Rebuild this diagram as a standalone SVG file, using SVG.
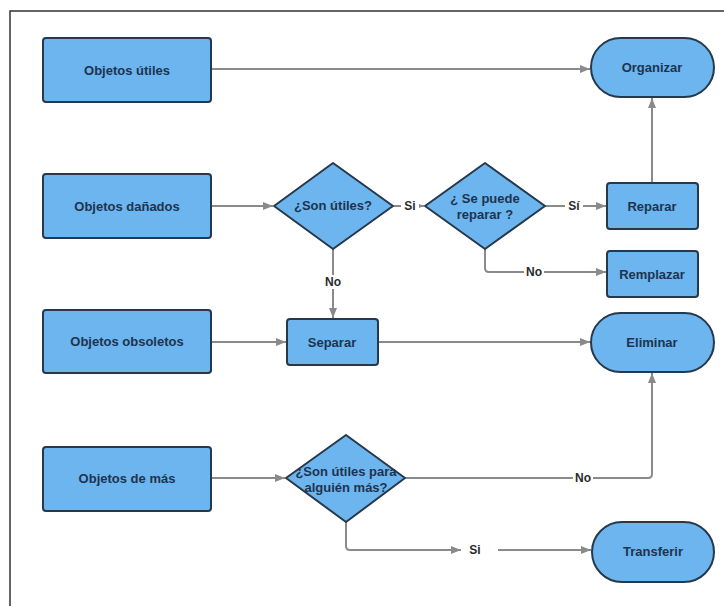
<svg xmlns="http://www.w3.org/2000/svg" width="724" height="607" viewBox="0 0 724 607">
  <style>
    .box { fill: #6cb5ee; stroke: #26384a; stroke-width: 2; }
    .lbl { font-family: "Liberation Sans", Arial, sans-serif; font-size: 13px; font-weight: bold; fill: #1d3350; text-anchor: middle; dominant-baseline: central; }
    .edge { fill: none; stroke: #8a8a8a; stroke-width: 2; }
    .elbl { font-family: "Liberation Sans", Arial, sans-serif; font-size: 12px; font-weight: bold; fill: #2a2a2a; text-anchor: middle; dominant-baseline: central; }
    .lblbg { fill: #ffffff; }
  </style>
  <defs>
    <marker id="arrow" viewBox="0 0 10 8" refX="10" refY="4" markerWidth="10" markerHeight="8" markerUnits="userSpaceOnUse" orient="auto">
      <path d="M0,0 L10,4 L0,8 Z" fill="#8a8a8a"/>
    </marker>
  </defs>

  <rect width="724" height="607" fill="#ffffff"/>
  <!-- frame -->
  <path d="M10,606 L10,11 L724,11" fill="none" stroke="#333333" stroke-width="1.5"/>

  <!-- connectors -->
  <g id="connectors">
    <path class="edge" d="M211,69 L590,69" marker-end="url(#arrow)"/>
    <path class="edge" d="M211,206 L273,206" marker-end="url(#arrow)"/>
    <path class="edge" d="M393,206 L424,206" marker-end="url(#arrow)"/>
    <path class="edge" d="M545,206 L606,206" marker-end="url(#arrow)"/>
    <path class="edge" d="M652,183 L652,98" marker-end="url(#arrow)"/>
    <path class="edge" d="M485,249 L485,268 Q485,272 489,272 L606,272" marker-end="url(#arrow)"/>
    <path class="edge" d="M333,249 L333,318" marker-end="url(#arrow)"/>
    <path class="edge" d="M211,342 L286,342" marker-end="url(#arrow)"/>
    <path class="edge" d="M378,342 L590,342" marker-end="url(#arrow)"/>
    <path class="edge" d="M211,478 L285,478" marker-end="url(#arrow)"/>
    <path class="edge" d="M405,478 L648,478 Q652,478 652,474 L652,373" marker-end="url(#arrow)"/>
    <path class="edge" d="M346,522 L346,546 Q346,550 350,550 L461,550" marker-end="url(#arrow)"/>
    <path class="edge" d="M498,550 L591,550" marker-end="url(#arrow)"/>

    <rect class="lblbg" x="401" y="199" width="18" height="14"/>
    <text class="elbl" x="410" y="206">Si</text>
    <rect class="lblbg" x="565" y="199" width="18" height="14"/>
    <text class="elbl" x="574" y="206">Sí</text>
    <rect class="lblbg" x="524" y="265" width="20" height="14"/>
    <text class="elbl" x="534" y="272">No</text>
    <rect class="lblbg" x="323" y="275" width="20" height="14"/>
    <text class="elbl" x="333" y="282">No</text>
    <rect class="lblbg" x="573" y="471" width="20" height="14"/>
    <text class="elbl" x="583" y="478">No</text>
    <text class="elbl" x="475" y="550">Si</text>
  </g>

  <g id="objetos-utiles">
    <rect class="box" x="43" y="38" width="168" height="64" rx="3"/>
    <text class="lbl" x="127" y="70">Objetos útiles</text>
  </g>
  <g id="objetos-danados">
    <rect class="box" x="43" y="174" width="168" height="64" rx="3"/>
    <text class="lbl" x="127" y="206">Objetos dañados</text>
  </g>
  <g id="objetos-obsoletos">
    <rect class="box" x="43" y="310" width="168" height="63" rx="3"/>
    <text class="lbl" x="127" y="341">Objetos obsoletos</text>
  </g>
  <g id="objetos-de-mas">
    <rect class="box" x="43" y="447" width="168" height="64" rx="3"/>
    <text class="lbl" x="127" y="478">Objetos de más</text>
  </g>

  <g id="son-utiles">
    <path class="box" d="M333,163 L393,206 L333,249 L274,206 Z" stroke-linejoin="round"/>
    <text class="lbl" x="333" y="205">¿Son útiles?</text>
  </g>
  <g id="se-puede-reparar">
    <path class="box" d="M485,163 L545,206 L485,249 L425,206 Z" stroke-linejoin="round"/>
    <text class="lbl" x="485" y="198">¿ Se puede</text>
    <text class="lbl" x="485" y="214">reparar ?</text>
  </g>
  <g id="son-utiles-para-alguien">
    <path class="box" d="M346,435 L405,478 L346,522 L286,478 Z" stroke-linejoin="round"/>
    <text class="lbl" x="346" y="471">¿Son útiles para</text>
    <text class="lbl" x="346" y="487">alguién más?</text>
  </g>

  <g id="reparar">
    <rect class="box" x="607" y="183" width="91" height="46" rx="3"/>
    <text class="lbl" x="652" y="206">Reparar</text>
  </g>
  <g id="remplazar">
    <rect class="box" x="607" y="251" width="91" height="46" rx="3"/>
    <text class="lbl" x="652" y="274">Remplazar</text>
  </g>
  <g id="separar">
    <rect class="box" x="287" y="319" width="91" height="46" rx="3"/>
    <text class="lbl" x="332" y="342">Separar</text>
  </g>

  <g id="organizar">
    <rect class="box" x="591" y="38" width="123" height="59" rx="29.5"/>
    <text class="lbl" x="652" y="67">Organizar</text>
  </g>
  <g id="eliminar">
    <rect class="box" x="591" y="313" width="123" height="59" rx="29.5"/>
    <text class="lbl" x="652" y="342">Eliminar</text>
  </g>
  <g id="transferir">
    <rect class="box" x="592" y="522" width="122" height="60" rx="30"/>
    <text class="lbl" x="653" y="551">Transferir</text>
  </g>
</svg>
